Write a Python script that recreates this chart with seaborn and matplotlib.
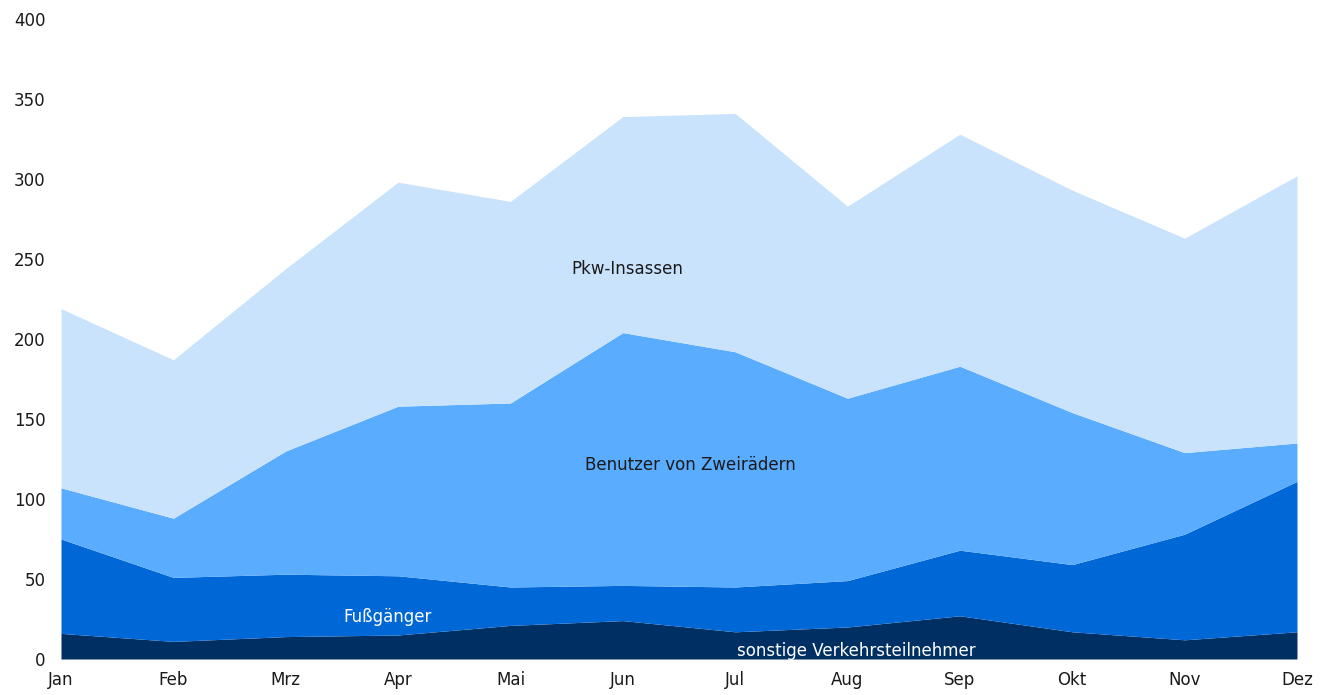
import matplotlib.pyplot as plt
import seaborn as sns
import pandas as pd

months = ["Jan", "Feb", "Mrz", "Apr", "Mai", "Jun", "Jul", "Aug", "Sep", "Okt", "Nov", "Dez"]
sonstige = [16, 11, 14, 15, 21, 24, 17, 20, 27, 17, 12, 17]
fussgaenger = [59, 40, 39, 37, 24, 22, 28, 29, 41, 42, 66, 94]
zweiraeder = [32, 37, 77, 106, 115, 158, 147, 114, 115, 95, 51, 24]
pkw = [112, 99, 114, 140, 126, 135, 149, 120, 145, 139, 134, 167]

series_names = ["sonstige Verkehrsteilnehmer", "Fußgänger", "Benutzer von Zweirädern", "Pkw-Insassen"]
colors = ["#002f63", "#0068d6", "#5aacfe", "#cae3fd"]

df = pd.DataFrame({
    "Monat": months,
    series_names[0]: sonstige,
    series_names[1]: fussgaenger,
    series_names[2]: zweiraeder,
    series_names[3]: pkw,
})

sns.set_theme(style="white")
plt.rcParams['font.family'] = ['DejaVu Sans']

fig = plt.figure(figsize=(13.29, 6.95), dpi=100)
ax = fig.add_axes([0.0459, 0.0518, 0.930, 0.9209])

x = list(range(len(months)))
ax.stackplot(x, [df[n] for n in series_names], colors=colors, linewidth=0)

ax.set_xlim(0, len(months) - 1)
ax.set_ylim(0, 400)
ax.set_yticks(range(0, 401, 50))
ax.set_xticks(x)
ax.set_xticklabels(months)
ax.tick_params(axis="y", length=0, pad=11, labelsize=12, labelcolor="#1a1a1a")
ax.tick_params(axis="x", length=0, pad=9, labelsize=12, labelcolor="#1a1a1a")
for s in ax.spines.values():
    s.set_visible(False)

# labels inside the areas
ax.text(5.04, 244, "Pkw-Insassen", ha="center", va="center", fontsize=12, color="#1a1a1a")
ax.text(5.6, 121, "Benutzer von Zweirädern", ha="center", va="center", fontsize=12, color="#1a1a1a")
ax.text(2.91, 26, "Fußgänger", ha="center", va="center", fontsize=12, color="white")
ax.text(7.08, 5, "sonstige Verkehrsteilnehmer", ha="center", va="center", fontsize=12, color="white")

fig.savefig("out.png", dpi=100)
